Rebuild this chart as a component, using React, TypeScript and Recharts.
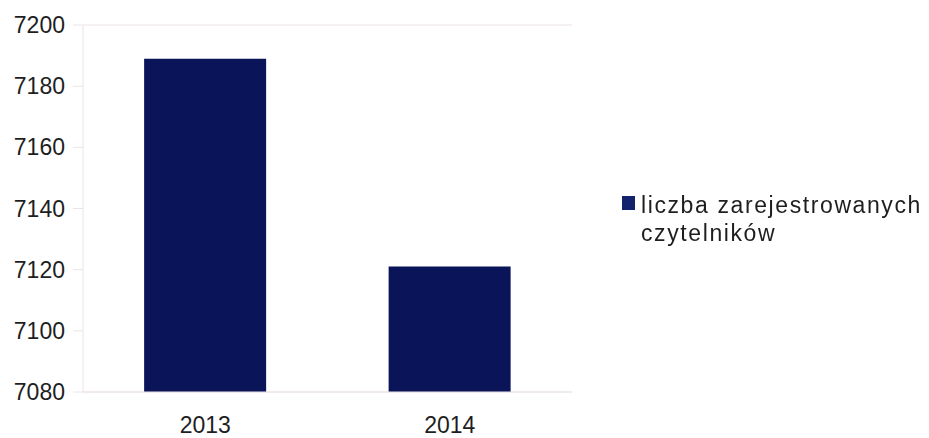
import React from "react";
import { BarChart, Bar, XAxis, YAxis, CartesianGrid } from "recharts";

const years = ["2013", "2014"];
const readers = [7189, 7121];
const yTicks = [7080, 7100, 7120, 7140, 7160, 7180, 7200];
const seriesName = "liczba zarejestrowanych czytelników";

const data = years.map((y, i) => ({ year: y, value: readers[i] }));

const font = "'Liberation Sans', Arial, sans-serif";
const barColor = "#0a1458";
const gridColor = "#ece4e4";

export default function App() {
  return (
    <div style={{ position: "fixed", left: 0, top: 0, width: 929, height: 438, background: "#fff" }}>
      <BarChart
        width={929}
        height={438}
        data={data}
        margin={{ top: 25, right: 357, bottom: 8, left: 0 }}
        barCategoryGap="25%"
      >
        <CartesianGrid vertical={false} stroke={gridColor} />
        <XAxis
          dataKey="year"
          tickLine={false}
          axisLine={{ stroke: gridColor }}
          tickSize={0}
          tickMargin={25}
          height={38}
          tick={{ fill: "#1e1e1e", fontSize: 23, fontFamily: font }}
        />
        <YAxis
          yAxisId="left"
          domain={[7080, 7200]}
          ticks={yTicks}
          width={83}
          tickLine={{ stroke: gridColor }}
          tickSize={10}
          tickMargin={8}
          axisLine={{ stroke: gridColor }}
          tick={{ fill: "#1e1e1e", fontSize: 23, fontFamily: font }}
          allowDataOverflow
        />
        <YAxis
          yAxisId="right"
          orientation="right"
          domain={[7080, 7200]}
          width={0}
          tick={false}
          tickLine={false}
          axisLine={{ stroke: gridColor }}
        />
        <Bar yAxisId="left" dataKey="value" name={seriesName} fill={barColor} isAnimationActive={false} />
      </BarChart>
      <div
        style={{
          position: "absolute",
          left: 622,
          top: 191,
          fontFamily: font,
          fontSize: 23,
          color: "#1e1e1e",
          lineHeight: "28px",
          display: "flex",
          alignItems: "flex-start",
        }}
      >
        <div style={{ width: 13, height: 14, background: "#14226e", marginTop: 5, marginRight: 6 }} />
        <div style={{ width: 300, letterSpacing: 1.6 }}>
          liczba zarejestrowanych
          <br />
          czytelników
        </div>
      </div>
    </div>
  );
}
